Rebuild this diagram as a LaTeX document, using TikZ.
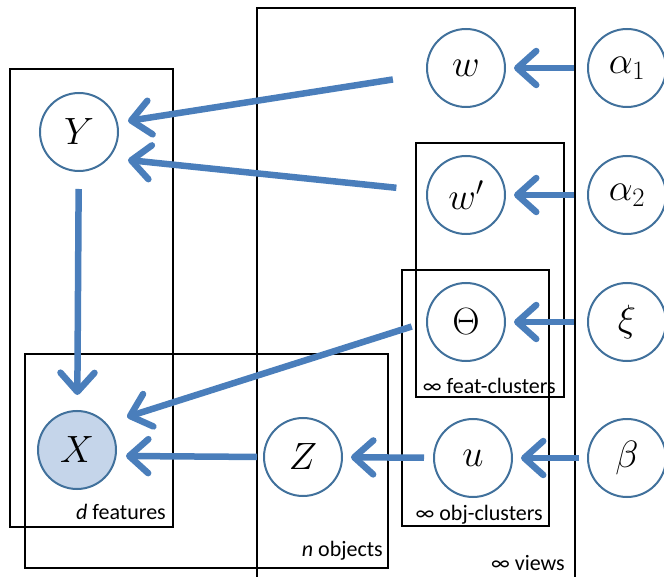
\documentclass[tikz,border=0pt]{standalone}
\usepackage{fix-cm}
\usepackage{fontspec}
\setmainfont{Carlito}
\usetikzlibrary{arrows.meta}
\definecolor{arrowblue}{HTML}{4A7EBB}
\definecolor{circblue}{HTML}{41719C}
\definecolor{obsfill}{HTML}{C5D5EA}
\tikzset{
  var/.style={circle, draw=circblue, line width=2pt, minimum size=78pt, inner sep=0pt, fill=white, font=\fontsize{38}{42}\selectfont},
  obs/.style={var, fill=obsfill},
  plate/.style={draw=black, line width=2.2pt},
  platelabel/.style={anchor=base east, inner sep=0pt, font=\fontsize{22}{26}\selectfont},
  edge/.style={draw=arrowblue, line width=6.5pt, -{Straight Barb[length=19pt, width=34pt, line cap=round, line join=round]}}
}
\begin{document}
\begin{tikzpicture}[x=1pt, y=-1pt]
\useasboundingbox (0,0) rectangle (664,577);
% plates
\draw[plate] (10,69) rectangle (173,527);
\draw[plate] (25,354) rectangle (388,568);
\draw[plate] (257,8) rectangle (575,600);
\draw[plate] (416,143) rectangle (564,397);
\draw[plate] (402,270) rectangle (549,526);
\node[platelabel] (ldf) at (166,519) {\textit{d} features};
\node[platelabel] (lno) at (383,556) {\textit{n} objects};
\node[platelabel] (lvw) at (565,570) {∞ views};
\node[platelabel] (lfc) at (556,393) {∞ feat-clusters};
\node[platelabel] (loc) at (543,520) {∞ obj-clusters};
% nodes
\node[var] (Y) at (79,132) {$Y$};
\node[obs] (X) at (77,450) {$X$};
\node[var] (Z) at (303,457) {$Z$};
\node[var] (w) at (466,68) {$w$};
\node[var] (wp) at (466,195) {$w'$};
\node[var] (T) at (466,322) {$\Theta$};
\node[var] (u) at (473,458) {$u$};
\node[var] (a1) at (627,68) {$\alpha_1$};
\node[var] (a2) at (627,195) {$\alpha_2$};
\node[var] (xi) at (627,322) {$\xi$};
\node[var] (b) at (627,458) {$\beta$};
% arrow end points beside Y and X
\coordinate (Yw) at (128,121);
\coordinate (Ywp) at (128,160);
\coordinate (XT) at (127,417);
\coordinate (XZ) at (126,456);
% edges
\draw[edge, shorten <=13pt, shorten >=8pt] (a1) -- (w);
\draw[edge, shorten <=13pt, shorten >=8pt] (a2) -- (wp);
\draw[edge, shorten <=13pt, shorten >=8pt] (xi) -- (T);
\draw[edge, shorten <=8pt, shorten >=8pt] (b) -- (u);
\draw[edge, shorten <=9pt, shorten >=8pt] (u) -- (Z);
\draw[edge, shorten <=6pt] (Z.west) -- (XZ);
\draw[edge, shorten <=15pt] (T.west) -- (XT);
\draw[edge, shorten <=34pt] (w) -- (Yw);
\draw[edge, shorten <=30pt] (wp) -- (Ywp);
\draw[edge, shorten <=17pt, shorten >=15pt] (Y) -- (X);
\end{tikzpicture}
\end{document}
